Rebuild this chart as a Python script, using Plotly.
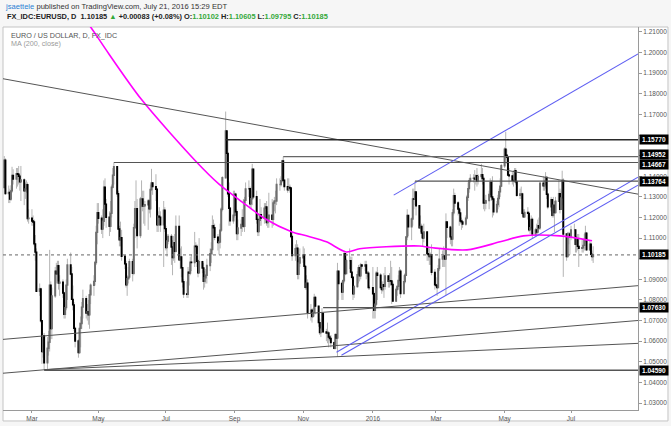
import pandas as pd
import plotly.graph_objects as go

# ---------------- data (EUR/USD daily, values in 1e-4 units) ----------------
dates = pd.bdate_range("2015-02-05", "2016-07-21")
first_open = 11345

close_pips = [
    11478, 11316,
    11322, 11289, 11329, 11404, 11387,  11413, 11410, 11400, 11373, 11382,
    11330, 11339, 11359, 11195, 11197,  11183, 11178, 11072, 11032, 10842,
    10853, 10699, 10550, 10627, 10495,  10566, 10595, 10872, 10661, 10820,
    10940, 10927, 10966, 10882, 10886,  10834, 10731, 10763, 10872, 10970,
    10926, 10803, 10776, 10662, 10601,  10545, 10662, 10686, 10765, 10806,
    10736, 10743, 10728, 10825, 10871,  10890, 10982, 11128, 11223, 11196,
    11144, 11182, 11347, 11265, 11201,  11157, 11220, 11347, 11405, 11447,
    11315, 11144, 11092, 11102, 11012,  10975, 10874, 10903, 10911, 10986,
    10929, 11150, 11243, 11243, 11112,  11290, 11290, 11255, 11257, 11262,
    11280, 11242, 11336, 11368, 11350,  11337, 11164, 11206, 11202, 11165,
    11236, 11146, 11054, 11086, 11108,  11057, 11006, 11078, 11036, 11157,
    10995, 11009, 10956, 10888, 10829,  10828, 10935, 10930, 10983, 10982,
    11061, 11059, 10988, 10932, 10985,  10955, 10890, 10908, 10920, 10967,
    11025, 11045, 11160, 11150, 11104,  11078, 11081, 11139, 11240, 11393,
    11620, 11511, 11315, 11245, 11184,  11211, 11313, 11228, 11122, 11149,
    11166, 11199, 11157, 11283, 11339,  11340, 11266, 11291, 11434, 11301,
    11191, 11132, 11186, 11214, 11197,  11245, 11251, 11175, 11192, 11211,
    11191, 11270, 11280, 11280, 11360,  11360, 11378, 11474, 11381, 11350,
    11334, 11346, 11343, 11108, 11016,  11049, 11051, 10925, 10979, 11005,
    11018, 10963, 10861, 10881, 10740,  10750, 10720, 10740, 10812, 10770,
    10690, 10642, 10658, 10734, 10645,  10640, 10640, 10620, 10613, 10593,
    10565, 10632, 10615, 10940, 10880,  10838, 10893, 11025, 10928, 10990,
    10990, 10935, 10910, 10830, 10865,  10923, 10957, 10917, 10970, 10965,
    10970, 10930, 10930, 10860, 10860,
    10830, 10750, 10780, 10930, 10920,  10860, 10850, 10874, 10866, 10916,
    10890, 10893, 10892, 10875, 10795,  10851, 10866, 10895, 10940, 10831,
    10889, 10920, 11106, 11210, 11155,  11193, 11290, 11289, 11324, 11257,
    11150, 11157, 11124, 11100, 11130,  11025, 11020, 11010, 11020, 10934,
    10873, 10870, 10860, 10952, 10998,  11010, 11013, 10999, 11178, 11153,
    11106, 11096, 11223, 11306, 11270,  11241, 11222, 11183, 11179, 11168,
    11197, 11298, 11340, 11378, 11390,  11391, 11386, 11403, 11377, 11399,
    11408, 11390, 11270, 11270, 11282,  11312, 11370, 11300, 11290, 11228,
    11263, 11292, 11325, 11352, 11451,  11531, 11502, 11492, 11406, 11402,
    11380, 11379, 11427, 11373, 11308,  11314, 11314, 11220, 11204, 11225,
    11220, 11140, 11150, 11190, 11120,  11140, 11130, 11160, 11150, 11366,
    11354, 11360, 11394, 11313, 11252,  11286, 11211, 11260, 11224, 11279,
    11315, 11240, 11295, 11380, 11120,  11010, 11120, 11120, 11105, 11140,
    11140, 11070, 11094, 11060, 11050,  11053, 11065, 11094, 11124, 11043,
    11071, 11021, 11010.2, 11018.5,
]

high_pips = [
    11498, 11487,
    11355, 11340, 11356, 11446, 11434,  11440, 11440, 11450, 11410, 11450,
    11390, 11370, 11380, 11370, 11240,  11240, 11210, 11190, 11115, 11050,
    10880, 10860, 10700, 10630, 10640,  10620, 10650, 11043, 10890, 10860,
    10960, 10980, 10990, 10990, 10920,  10900, 10840, 10790, 10900, 11000,
    11030, 10960, 10870, 10790, 10670,  10610, 10690, 10720, 10790, 10850,
    10820, 10780, 10800, 10850, 10880,  10920, 10990, 11160, 11270, 11270,
    11210, 11240, 11380, 11390, 11290,  11230, 11280, 11360, 11440, 11467,
    11440, 11330, 11160, 11180, 11140,  11010, 10990, 10920, 10960, 11000,
    11000, 11170, 11280, 11380, 11290,  11300, 11380, 11330, 11330, 11280,
    11290, 11290, 11360, 11436, 11370,  11410, 11340, 11230, 11250, 11230,
    11280, 11250, 11160, 11120, 11120,  11120, 11090, 11110, 11120, 11210,
    11210, 11050, 11060, 10960, 10900,  10890, 10960, 10950, 11010, 11020,
    11130, 11080, 11070, 11000, 11100,  10990, 10980, 10940, 10950, 11000,
    11050, 11080, 11210, 11190, 11170,  11120, 11110, 11170, 11250, 11400,
    11714, 11620, 11580, 11370, 11250,  11330, 11330, 11320, 11240, 11190,
    11190, 11240, 11290, 11300, 11370,  11380, 11350, 11330, 11460, 11430,
    11330, 11200, 11220, 11290, 11250,  11270, 11270, 11280, 11230, 11320,
    11290, 11280, 11300, 11330, 11390,  11390, 11400, 11480, 11495, 11380,
    11390, 11390, 11360, 11340, 11130,  11070, 11090, 11070, 11000, 11050,
    11060, 11050, 10970, 10920, 10900,  10780, 10760, 10760, 10830, 10820,
    10720, 10710, 10680, 10760, 10740,  10660, 10690, 10650, 10630, 10630,
    10600, 10640, 10640, 10980, 10940,  10890, 10900, 11040, 11020, 11000,
    11050, 11010, 11010, 10910, 10870,  10940, 10970, 10960, 10980, 10970,
    10990, 10990, 10940, 10940, 10870,
    10960, 10840, 10810, 10940, 10960,  10930, 10890, 10890, 10930, 10960,
    10920, 10930, 10990, 10960, 10890,  10860, 10870, 10920, 10960, 10950,
    10920, 10930, 11110, 11240, 11210,  11200, 11340, 11340, 11376, 11300,
    11240, 11210, 11170, 11160, 11170,  11090, 11060, 11050, 11030, 11070,
    10950, 10910, 10880, 10970, 11050,  11040, 11060, 11050, 11220, 11170,
    11160, 11150, 11240, 11340, 11320,  11280, 11250, 11240, 11200, 11190,
    11210, 11310, 11370, 11390, 11410,  11410, 11430, 11410, 11440, 11410,
    11460, 11440, 11400, 11290, 11310,  11330, 11390, 11380, 11400, 11290,
    11280, 11310, 11340, 11390, 11460,  11540, 11616, 11530, 11500, 11440,
    11420, 11410, 11440, 11440, 11380,  11340, 11350, 11320, 11240, 11240,
    11250, 11230, 11170, 11210, 11200,  11150, 11170, 11190, 11200, 11370,
    11400, 11380, 11420, 11400, 11320,  11300, 11290, 11300, 11280, 11300,
    11380, 11340, 11330, 11427, 11390,  11100, 11130, 11130, 11130, 11160,
    11170, 11140, 11110, 11120, 11120,  11090, 11090, 11120, 11160, 11130,
    11090, 11080, 11040, 11060.5,
]

low_pips = [
    11343, 11310,
    11270, 11270, 11280, 11320, 11360,  11340, 11350, 11360, 11330, 11280,
    11260, 11290, 11320, 11180, 11170,  11160, 11160, 11060, 10990, 10840,
    10820, 10690, 10490, 10520, 10462,  10460, 10530, 10550, 10610, 10610,
    10810, 10880, 10890, 10850, 10820,  10810, 10710, 10710, 10750, 10800,
    10920, 10800, 10750, 10650, 10570,  10520, 10540, 10570, 10660, 10710,
    10710, 10700, 10680, 10660, 10780,  10820, 10870, 10970, 11070, 11170,
    11120, 11100, 11160, 11240, 11150,  11110, 11130, 11200, 11340, 11360,
    11300, 11140, 11060, 11060, 10990,  10950, 10860, 10820, 10880, 10900,
    10890, 10920, 11100, 11220, 11050,  11100, 11250, 11230, 11170, 11160,
    11140, 11220, 11200, 11330, 11310,  11280, 11130, 11130, 11160, 11130,
    10960, 11130, 11040, 11010, 11070,  10970, 10920, 10990, 10980, 11030,
    10990, 10950, 10910, 10860, 10810,  10810, 10810, 10870, 10920, 10940,
    10960, 11030, 10960, 10910, 10930,  10930, 10850, 10860, 10880, 10880,
    10940, 10980, 11020, 11110, 11090,  11040, 11020, 11050, 11130, 11230,
    11390, 11460, 11300, 11160, 11160,  11170, 11200, 11210, 11090, 11090,
    11110, 11130, 11150, 11130, 11270,  11300, 11250, 11240, 11260, 11290,
    11170, 11110, 11110, 11160, 11160,  11170, 11190, 11160, 11150, 11150,
    11150, 11160, 11230, 11220, 11260,  11330, 11350, 11370, 11370, 11330,
    11320, 11330, 11320, 11100, 10990,  10990, 11020, 10900, 10900, 10960,
    10980, 10950, 10850, 10850, 10710,  10700, 10690, 10720, 10720, 10730,
    10670, 10630, 10620, 10650, 10640,  10600, 10590, 10570, 10600, 10570,
    10560, 10560, 10580, 10524, 10800,  10800, 10800, 10880, 10920, 10930,
    10950, 10930, 10900, 10800, 10810,  10860, 10880, 10890, 10900, 10950,
    10940, 10900, 10910, 10850, 10850,
    10710, 10710, 10710, 10770, 10800,  10850, 10830, 10840, 10810, 10850,
    10860, 10860, 10870, 10780, 10790,  10790, 10820, 10850, 10890, 10810,
    10830, 10880, 10920, 11090, 11110,  11090, 11160, 11240, 11260, 11210,
    11150, 11130, 11100, 11060, 11080,  10990, 10990, 10970, 10970, 10920,
    10850, 10860, 10820, 10860, 10940,  10960, 10960, 10960, 10822, 11100,
    11070, 11060, 11060, 11210, 11250,  11210, 11160, 11170, 11140, 11150,
    11160, 11190, 11280, 11320, 11370,  11370, 11330, 11360, 11350, 11360,
    11380, 11360, 11240, 11230, 11240,  11240, 11300, 11280, 11200, 11210,
    11220, 11240, 11250, 11300, 11350,  11440, 11480, 11460, 11400, 11360,
    11360, 11350, 11370, 11360, 11300,  11290, 11290, 11210, 11200, 11200,
    11190, 11130, 11120, 11140, 11100,  11110, 11110, 11120, 11140, 11140,
    11330, 11330, 11340, 11290, 11240,  11230, 11200, 11200, 11130, 11220,
    11310, 11220, 11240, 11260, 10912,  10990, 11010, 11070, 11020, 11090,
    11110, 11030, 11030, 11040, 10960,  11030, 11030, 11040, 11080, 11040,
    11040, 11010, 10990, 10979.5,
]

# 200-day moving average
ma_dates = ["2015-04-18", "2015-04-24", "2015-05-01", "2015-05-08", "2015-06-09",
            "2015-07-28", "2015-08-18", "2015-09-08", "2015-09-29", "2015-10-23",
            "2015-11-05", "2015-11-23", "2015-12-11", "2015-12-23", "2016-01-16",
            "2016-02-15", "2016-02-27", "2016-03-29", "2016-04-28", "2016-05-19",
            "2016-06-21", "2016-07-20"]
ma_vals = [1.2172, 1.2124, 1.2069, 1.2013, 1.1772, 1.1473, 1.1362, 1.1275, 1.1193,
           1.1130, 1.1111, 1.1082, 1.1033, 1.1048, 1.1058, 1.1062, 1.1053, 1.1043,
           1.1082, 1.1111, 1.1111, 1.1087]

# drawings: trend lines (start date, start price, end date, end price)
x_start, x_end = "2015-02-03 20:00", "2016-08-30 12:00"
gray_lines = [
    (x_start, 1.18732, x_end, 1.13133),
    (x_start, 1.06087, x_end, 1.08693),
    (x_start, 1.04446, x_end, 1.07004),
    ("2015-03-13", 1.0462, x_end, 1.05894),
]
blue_lines = [
    ("2016-01-22 19:00", 1.13085, x_end, 1.19938),
    ("2015-12-02 03:00", 1.05459, x_end, 1.13954),
    ("2015-12-06 14:00", 1.05315, x_end, 1.13567),
]
# horizontal levels (start date, price, colour, width)
h_levels = [
    ("2015-08-24", 1.15770, "#2a2a2a", 1.6),
    ("2015-10-15", 1.14952, "#666666", 1.1),
    ("2015-05-15", 1.14667, "#555555", 1.1),
    ("2016-02-11", 1.13764, "#555555", 1.1),
    ("2015-11-20", 1.07630, "#555555", 1.3),
    ("2015-03-13", 1.04590, "#555555", 1.5),
]
last_price = 1.10185
# price label boxes on the axis: (price, vertical nudge in px to avoid overlap)
label_levels = [(1.15770, 0), (1.14952, 2.5), (1.14667, -1.5), (1.13764, 0),
                (1.10185, 0), (1.07630, 0), (1.04590, 0)]

tick_dates = ["2015-03-02", "2015-05-01", "2015-07-01", "2015-09-01", "2015-11-02",
              "2016-01-04", "2016-03-01", "2016-05-02", "2016-07-01"]
tick_text = ["Mar", "May", "Jul", "Sep", "Nov", "2016", "Mar", "May", "Jul"]
price_ticks = [1.03, 1.04, 1.05, 1.06, 1.07, 1.08, 1.09, 1.10, 1.11, 1.12, 1.13,
               1.14, 1.15, 1.16, 1.17, 1.18, 1.19, 1.20, 1.21]
hidden_ticks = [1.10, 1.15, 1.16]   # covered by the price boxes in the original

# ---------------- build ----------------
closes = [c / 10000 for c in close_pips]
opens = [first_open / 10000] + closes[:-1]
highs = [max(h / 10000, o, c) for h, o, c in zip(high_pips, opens, closes)]
lows = [min(l / 10000, o, c) for l, o, c in zip(low_pips, opens, closes)]
body_hi = [max(o, c) for o, c in zip(opens, closes)]
body_lo = [min(o, c) for o, c in zip(opens, closes)]

FONT = "Liberation Sans, Arial, sans-serif"
fig = go.Figure()

# wicks
fig.add_trace(go.Candlestick(
    x=dates, open=opens, high=highs, low=lows, close=closes,
    increasing=dict(line=dict(color="#b4b4b4", width=1), fillcolor="#b4b4b4"),
    decreasing=dict(line=dict(color="#b4b4b4", width=1), fillcolor="#b4b4b4"),
    hoverinfo="skip", showlegend=False))
# bodies
fig.add_trace(go.Candlestick(
    x=dates, open=opens, high=body_hi, low=body_lo, close=closes,
    increasing=dict(line=dict(color="#6e6e6e", width=1.4), fillcolor="#6e6e6e"),
    decreasing=dict(line=dict(color="#000000", width=1.4), fillcolor="#000000"),
    hoverinfo="skip", showlegend=False))

fig.add_trace(go.Scatter(x=ma_dates, y=ma_vals, mode="lines",
                         line=dict(color="#ff00ff", width=1.6, shape="spline", smoothing=0.8),
                         hoverinfo="skip", showlegend=False))

for x0, y0, x1, y1 in gray_lines:
    fig.add_trace(go.Scatter(x=[x0, x1], y=[y0, y1], mode="lines",
                             line=dict(color="#555555", width=1), hoverinfo="skip", showlegend=False))
for x0, y0, x1, y1 in blue_lines:
    fig.add_trace(go.Scatter(x=[x0, x1], y=[y0, y1], mode="lines",
                             line=dict(color="#5f5ff2", width=1.1), hoverinfo="skip", showlegend=False))
for x0, p, col, w in h_levels:
    fig.add_trace(go.Scatter(x=[x0, x_end], y=[p, p], mode="lines",
                             line=dict(color=col, width=w), hoverinfo="skip", showlegend=False))

shapes = [
    dict(type="rect", xref="paper", yref="paper", x0=0, x1=1.0472, y0=-0.0286, y1=1,
         fillcolor="white", line=dict(color="#c4c4c4", width=1), layer="below"),
    dict(type="line", xref="paper", yref="y", x0=0, x1=1, y0=last_price, y1=last_price,
         line=dict(color="#666666", width=1, dash="dot")),
]

annotations = []
for p, nudge in label_levels:
    annotations.append(dict(xref="paper", yref="y", x=1.0016, y=p, xanchor="left", yanchor="middle",
                            yshift=nudge, text="<b>%.5f</b>" % p, showarrow=False, bgcolor="#000000",
                            font=dict(family=FONT, size=6.5, color="white"),
                            width=27, height=8, borderpad=0.5, align="center"))

G = "#34a83a"
hdr1 = ("<span style='color:#2a7fd4'>jsaettele</span> "
        "<span style='color:#333333'>published on TradingView.com, July 21, 2016 15:29 EDT</span>")
hdr2 = ("<b>FX_IDC:EURUSD, D  1.10185 <span style='color:%s'>▲</span> +0.00083 (+0.08%%) "
        "O:<span style='color:%s'>1.10102</span> H:<span style='color:%s'>1.10605</span> "
        "L:<span style='color:%s'>1.09795</span> C:<span style='color:%s'>1.10185</span></b>") % (G, G, G, G, G)
annotations += [
    dict(xref="paper", yref="paper", x=0.0, y=1.0545, xanchor="left", yanchor="middle",
         text=hdr1, showarrow=False, font=dict(family=FONT, size=7.6, color="#333333")),
    dict(xref="paper", yref="paper", x=0.003, y=1.0286, xanchor="left", yanchor="middle",
         text=hdr2, showarrow=False, font=dict(family=FONT, size=7.4, color="#222222")),
    dict(xref="paper", yref="paper", x=0.0095, y=0.979, xanchor="left", yanchor="middle",
         text="EURO / US DOLLAR, D, FX_IDC", showarrow=False,
         font=dict(family=FONT, size=7.2, color="#555555")),
    dict(xref="paper", yref="paper", x=0.0095, y=0.9558, xanchor="left", yanchor="middle",
         text="MA (200, close)", showarrow=False,
         font=dict(family=FONT, size=7.2, color="#9a9a9a")),
]

tick_labels = ["" if t in hidden_ticks else "%.5f" % t for t in price_ticks]

fig.update_layout(
    width=671, height=426,
    margin=dict(l=3, r=33, t=27, b=14, pad=0),
    paper_bgcolor="#f6f6f6", plot_bgcolor="white",
    font=dict(family=FONT, size=6.5, color="#555555"),
    showlegend=False, shapes=shapes, annotations=annotations,
    xaxis=dict(type="date", range=[x_start, x_end], rangeslider=dict(visible=False),
               tickvals=tick_dates, ticktext=tick_text, showgrid=False, zeroline=False,
               showline=True, linecolor="#9a9a9a", linewidth=1,
               ticks="outside", ticklen=2, tickcolor="#9a9a9a",
               tickfont=dict(family=FONT, size=6.5, color="#555555")),
    yaxis=dict(range=[1.02662, 1.21241], side="right", tickvals=price_ticks,
               ticktext=tick_labels, showgrid=False, zeroline=False,
               showline=True, linecolor="#9a9a9a", linewidth=1,
               ticks="outside", ticklen=3, tickcolor="#9a9a9a",
               tickfont=dict(family=FONT, size=6.5, color="#555555")),
)

fig.write_html("out.html")
